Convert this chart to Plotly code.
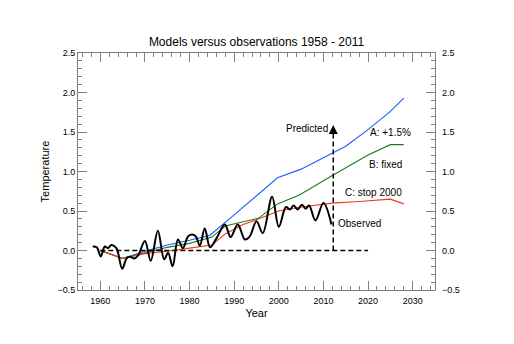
import plotly.graph_objects as go

# ---- data ----
years_A = [1960, 1965, 1970, 1975, 1980, 1984.5, 1990, 1995.5, 1999.7, 2005, 2010, 2015, 2020, 2025, 2028]
temp_A = [0.0, -0.1, -0.01, 0.07, 0.13, 0.19, 0.45, 0.72, 0.92, 1.03, 1.17, 1.32, 1.53, 1.76, 1.93]

years_B = [1960, 1965, 1970, 1975, 1980, 1985, 1988, 1995.5, 1999.7, 2004.5, 2012, 2020, 2025, 2028]
temp_B = [0.0, -0.1, -0.03, 0.04, 0.09, 0.17, 0.31, 0.41, 0.59, 0.7, 0.95, 1.21, 1.34, 1.34]

years_C = [1960, 1965, 1970, 1975, 1980, 1985, 1988, 1992, 1996, 2000, 2005, 2012, 2018, 2025, 2028]
temp_C = [0.0, -0.1, -0.04, -0.01, 0.03, 0.07, 0.21, 0.33, 0.41, 0.5, 0.55, 0.6, 0.62, 0.65, 0.59]

years_obs = [1958.3, 1959.2, 1960.1, 1961.0, 1961.7, 1962.5, 1963.6, 1964.9, 1965.9, 1966.6,
             1967.7, 1968.5, 1970.0, 1971.3, 1972.9, 1974.3, 1975.2, 1976.2, 1977.4, 1978.5,
             1979.7, 1980.8, 1981.5, 1982.3, 1983.4, 1984.6, 1986.0, 1987.9, 1989.2, 1990.8,
             1992.4, 1993.5, 1995.0, 1996.4, 1998.5, 2000.0, 2001.6, 2002.5, 2003.3, 2004.2,
             2005.2, 2006.0, 2006.8, 2008.2, 2010.0, 2011.8]
temp_obs = [0.05, 0.04, -0.075, 0.05, 0.03, 0.07, 0.03, -0.23, -0.1, -0.08,
            -0.1, -0.06, 0.12, -0.13, 0.25, -0.11, -0.03, -0.2, 0.14, 0.03,
            0.18, 0.2, 0.17, 0.06, 0.28, 0.04, 0.15, 0.33, 0.17, 0.33,
            0.14, 0.18, 0.37, 0.22, 0.68, 0.3, 0.55, 0.52, 0.57, 0.52,
            0.58, 0.53, 0.57, 0.38, 0.6, 0.33]

baseline_years = [1960, 2020]
baseline_temp = [0.0, 0.0]
predict_year = 2012.2
predict_top = 1.59
predict_shaft_top = 1.46

labels = [
    # text, x, y, xanchor
    ("Predicted", 2011.5, 1.54, "right"),
    ("A: +1.5%", 2020.0, 1.50, "left"),
    ("B: fixed", 2019.8, 1.09, "left"),
    ("C: stop 2000", 2014.4, 0.73, "left"),
    ("Observed", 2012.9, 0.34, "left"),
]

title = "Models versus observations 1958 - 2011"
x_title = "Year"
y_title = "Temperature"

# ---- figure ----
fig = go.Figure()
fig.add_trace(go.Scatter(x=years_A, y=temp_A, mode="lines",
                         line=dict(color="#1a5cff", width=1.1), hoverinfo="skip"))
fig.add_trace(go.Scatter(x=years_B, y=temp_B, mode="lines",
                         line=dict(color="#1f7a1f", width=1.1), hoverinfo="skip"))
fig.add_trace(go.Scatter(x=years_C, y=temp_C, mode="lines",
                         line=dict(color="#f03c14", width=1.1), hoverinfo="skip"))
fig.add_trace(go.Scatter(x=baseline_years, y=baseline_temp, mode="lines", yaxis="y2",
                         line=dict(color="black", width=1.5, dash="5px,3px"), hoverinfo="skip"))
fig.add_trace(go.Scatter(x=[predict_year, predict_year], y=[0.0, predict_shaft_top], mode="lines",
                         line=dict(color="black", width=1.5, dash="5px,3px"), hoverinfo="skip"))
fig.add_trace(go.Scatter(x=years_obs, y=temp_obs, mode="lines",
                         line=dict(color="black", width=2, shape="spline", smoothing=1.0),
                         hoverinfo="skip"))

fig.add_annotation(x=predict_year, y=predict_top, ax=predict_year, ay=predict_shaft_top - 0.02,
                   axref="x", ayref="y", xref="x", yref="y", text="", showarrow=True,
                   arrowhead=2, arrowsize=1.2, arrowwidth=1.5, arrowcolor="black")

for text, x, y, anchor in labels:
    fig.add_annotation(x=x, y=y, text=text, showarrow=False, xanchor=anchor, yanchor="middle",
                       font=dict(family="Liberation Sans, Arial, sans-serif", size=10, color="black"))

axis_gray = "#808080"
common_x = dict(range=[1955, 2035], tick0=1960, dtick=10, ticks="inside", ticklen=9,
                tickcolor=axis_gray, showline=True, linecolor=axis_gray, linewidth=1,
                mirror="ticks", showgrid=False, zeroline=False, ticklabelstandoff=2,
                minor=dict(dtick=2, tick0=1960, ticks="inside", ticklen=4, tickcolor=axis_gray, showgrid=False),
                tickfont=dict(size=9, color="black"))
common_y = dict(range=[-0.5, 2.5], tick0=0, dtick=0.5, tickformat=".1f", showgrid=False, zeroline=False,
                tickfont=dict(size=9, color="black"))

fig.update_layout(
    width=514, height=344,
    margin=dict(l=78, r=79, t=53, b=54),
    paper_bgcolor="white", plot_bgcolor="white",
    showlegend=False,
    font=dict(family="Liberation Sans, Arial, sans-serif", color="black"),
    title=dict(text=title, x=0.5, xref="paper", y=1 - 42 / 344, yref="container",
               xanchor="center", yanchor="middle", font=dict(size=12, color="black")),
    xaxis=dict(**common_x, title=dict(text=x_title, font=dict(size=11), standoff=4)),
    yaxis=dict(**common_y, ticks="inside", ticklen=9, tickcolor=axis_gray, showline=True,
               linecolor=axis_gray, linewidth=1, mirror="ticks",
               minor=dict(dtick=0.1, ticks="inside", ticklen=4, tickcolor=axis_gray, showgrid=False),
               title=dict(text=y_title, font=dict(size=11), standoff=5)),
    yaxis2=dict(**common_y, overlaying="y", side="right", ticks="", showline=False,
                ticklabelstandoff=6),
)

fig.write_html("out.html")
